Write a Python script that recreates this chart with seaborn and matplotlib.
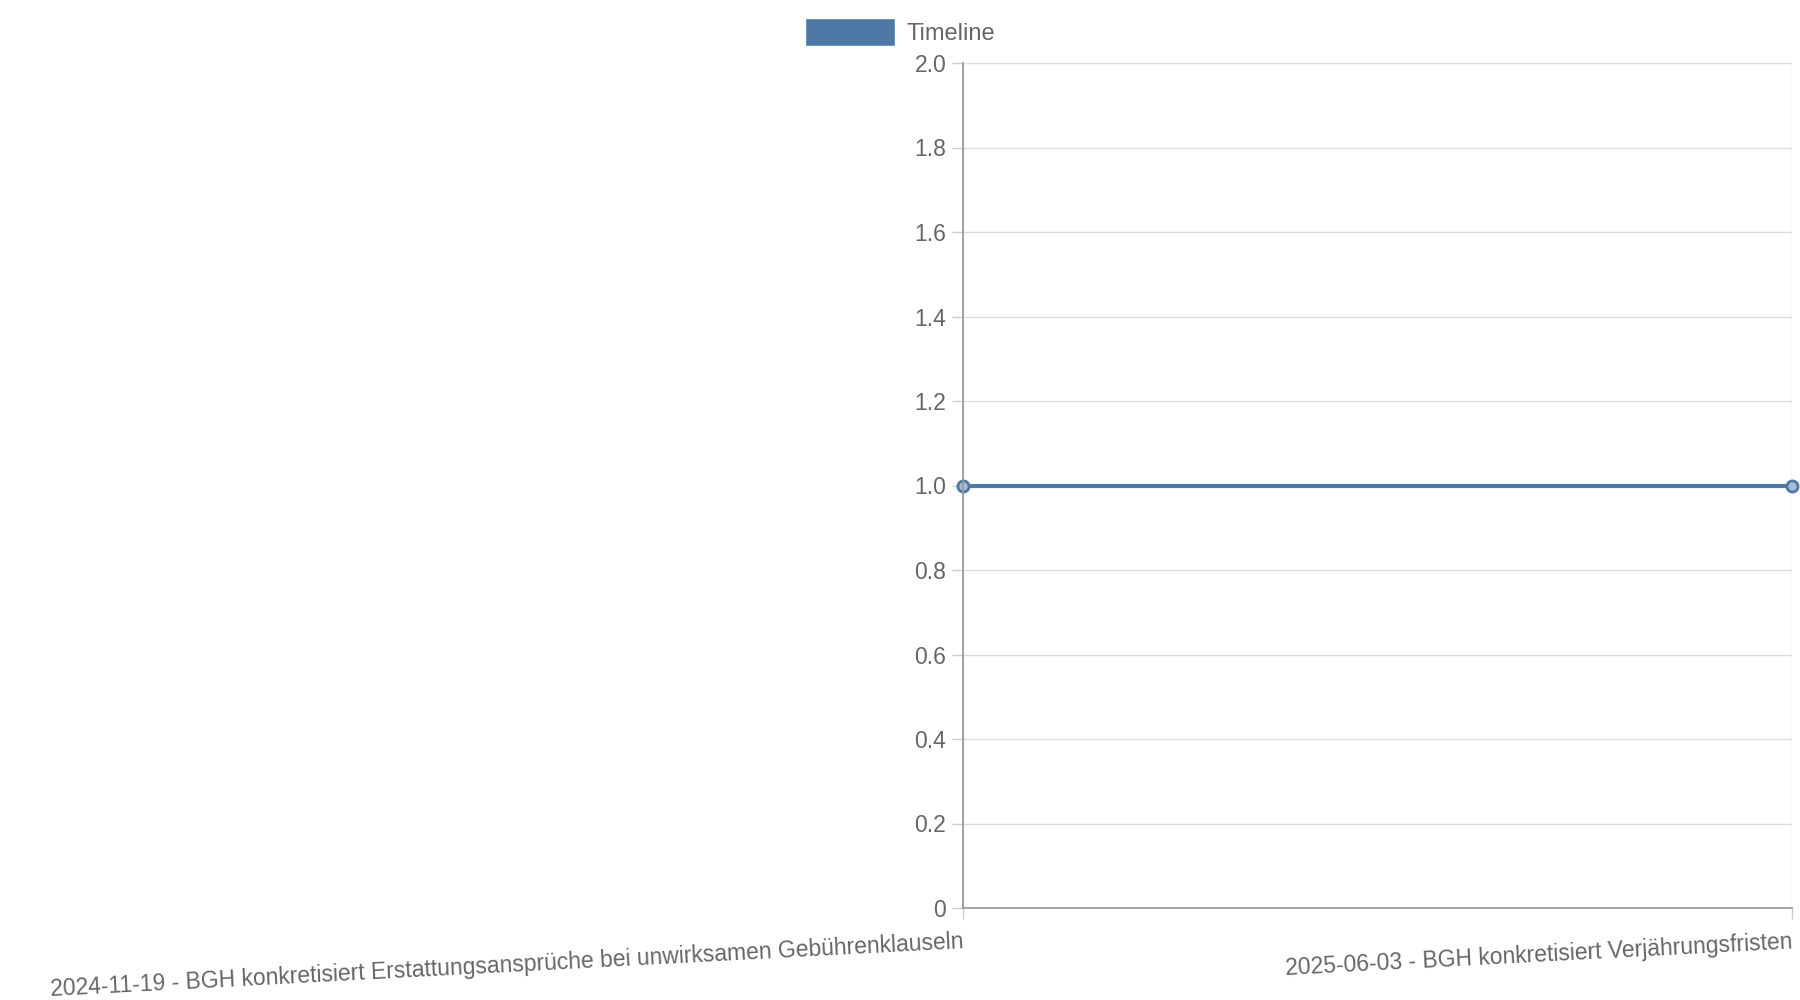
import matplotlib
matplotlib.use("Agg")
import matplotlib.pyplot as plt
import seaborn as sns
import pandas as pd

labels = ["2024-11-19 - BGH konkretisiert Erstattungsansprüche bei unwirksamen Gebührenklauseln",
          "2025-06-03 - BGH konkretisiert Verjährungsfristen"]
values = [1, 1]
series_name = "Timeline"

sns.set_theme(style="white")
plt.rcParams['font.family'] = ['Liberation Sans', 'DejaVu Sans']
plt.rcParams['xtick.bottom'] = True
plt.rcParams['ytick.left'] = True
color = "#4e79a7"
grey = "#666666"

df = pd.DataFrame({"x": [0, 1], "y": values})
fig = plt.figure(figsize=(18, 10), dpi=100)
ax = fig.add_axes([0.535, 0.092, 0.4605, 0.845])
sns.lineplot(data=df, x="x", y="y", ax=ax, color=color, linewidth=3,
             marker="o", markersize=8, markerfacecolor="#a9bcd3",
             markeredgecolor=color, markeredgewidth=2, clip_on=False)
ax.set_xlim(0, 1)
ax.set_ylim(0, 2)
ax.set_yticks([i * 0.2 for i in range(11)])
ax.set_yticklabels(["0"] + [f"{i*0.2:.1f}" for i in range(1, 11)])
ax.set_xticks([0, 1])
ax.set_xticklabels(labels, rotation=3, ha="right", rotation_mode="anchor")
ax.tick_params(axis="both", labelsize=16.5, colors=grey, length=8, width=1, color="#cccccc")
ax.tick_params(axis="x", pad=8)
ax.tick_params(axis="y", pad=4)
ax.grid(axis="y", color="#dddddd", linewidth=1)
ax.grid(axis="x", color="#dddddd", linewidth=1)
for s in ["top", "right"]:
    ax.spines[s].set_visible(False)
for s in ["left", "bottom"]:
    ax.spines[s].set_color("#999999")
ax.set_xlabel("")
ax.set_ylabel("")

from matplotlib.patches import Patch
fig.legend(handles=[Patch(facecolor=color, label=series_name)], loc="center",
           bbox_to_anchor=(0.5, 0.968), frameon=False, fontsize=17,
           handlelength=3.8, handleheight=1.4, handletextpad=0.5, labelcolor=grey)
fig.savefig("out.png", dpi=100)
